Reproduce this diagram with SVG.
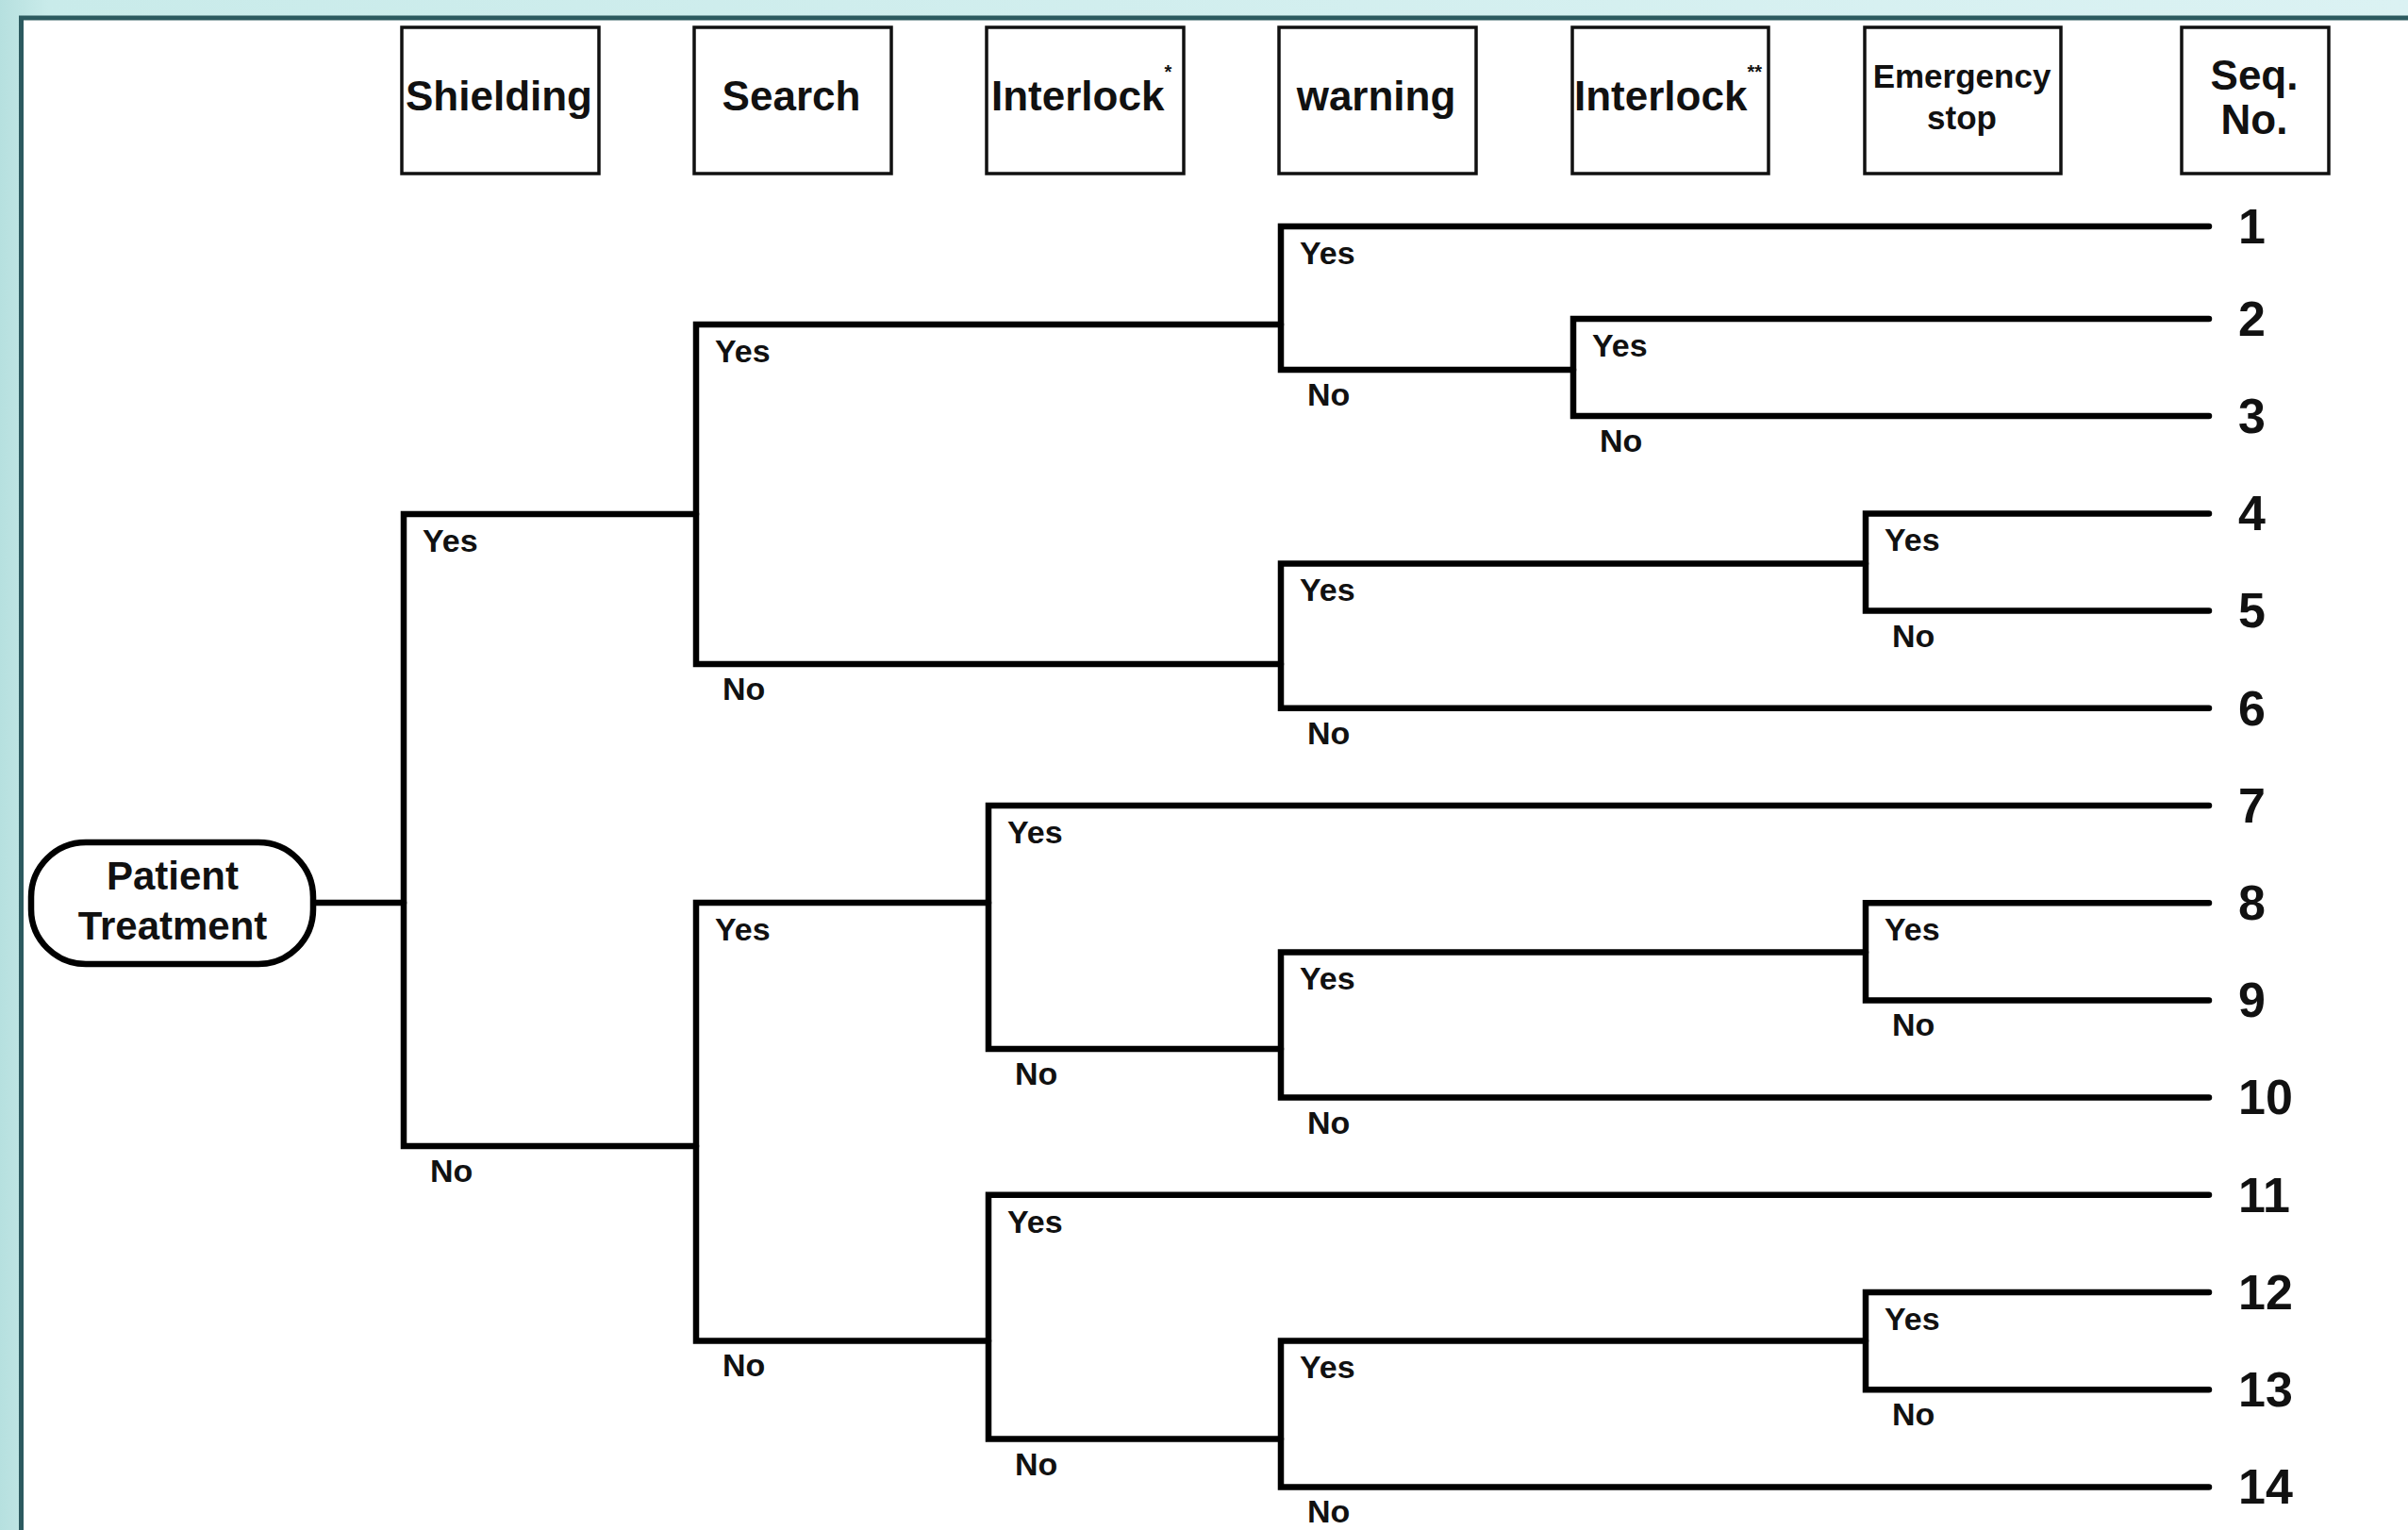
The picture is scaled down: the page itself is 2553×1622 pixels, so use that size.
<svg xmlns="http://www.w3.org/2000/svg" width="2553" height="1622" viewBox="0 0 2553 1622">
  <defs>
    <linearGradient id="bg" x1="0" y1="0" x2="1" y2="0">
      <stop offset="0" stop-color="#b6e0df"/>
      <stop offset="0.02" stop-color="#c9ebea"/>
      <stop offset="1" stop-color="#dbf2f3"/>
    </linearGradient>
  </defs>
  <style>
    .hdr { fill: #ffffff; stroke: #111111; stroke-width: 3.5; }
    .ht { font-family: "Liberation Sans", Arial, sans-serif; font-weight: bold; font-size: 44px; fill: #111111; }
    .ht2 { font-family: "Liberation Sans", Arial, sans-serif; font-weight: bold; font-size: 35px; fill: #111111; }
    .con { fill: none; stroke: #000000; stroke-width: 6.5; stroke-linecap: round; stroke-linejoin: miter; }
    .lbl { font-family: "Liberation Sans", Arial, sans-serif; font-weight: bold; font-size: 34px; fill: #111111; }
    .num { font-family: "Liberation Sans", Arial, sans-serif; font-weight: bold; font-size: 52px; fill: #111111; }
    .pt { font-family: "Liberation Sans", Arial, sans-serif; font-weight: bold; font-size: 42px; fill: #111111; }
  </style>

  <rect x="0" y="0" width="2553" height="1622" fill="url(#bg)"/>
  <rect x="22.5" y="19" width="2600" height="1700" fill="#ffffff" stroke="#2c5a5f" stroke-width="5"/>

  <!-- header nodes -->
  <g id="hdr-shielding">
    <rect class="hdr" x="426" y="29" width="209" height="155"/>
    <text class="ht" x="529" y="117" text-anchor="middle">Shielding</text>
  </g>
  <g id="hdr-search">
    <rect class="hdr" x="736" y="29" width="209" height="155"/>
    <text class="ht" x="839" y="117" text-anchor="middle">Search</text>
  </g>
  <g id="hdr-interlock1">
    <rect class="hdr" x="1046" y="29" width="209" height="155"/>
    <text class="ht" x="1051" y="117">Interlock<tspan font-size="20" dy="-34">*</tspan></text>
  </g>
  <g id="hdr-warning">
    <rect class="hdr" x="1356" y="29" width="209" height="155"/>
    <text class="ht" x="1459" y="117" text-anchor="middle">warning</text>
  </g>
  <g id="hdr-interlock2">
    <rect class="hdr" x="1667" y="29" width="208" height="155"/>
    <text class="ht" x="1669" y="117">Interlock<tspan font-size="20" dy="-34">**</tspan></text>
  </g>
  <g id="hdr-emergency">
    <rect class="hdr" x="1977" y="29" width="208" height="155"/>
    <text class="ht2" x="2080" y="93" text-anchor="middle">Emergency</text>
    <text class="ht2" x="2080" y="137" text-anchor="middle">stop</text>
  </g>
  <g id="hdr-seq">
    <rect class="hdr" x="2313" y="29" width="156" height="155"/>
    <text class="ht" x="2390" y="95" text-anchor="middle">Seq.</text>
    <text class="ht" x="2390" y="142" text-anchor="middle">No.</text>
  </g>

  <!-- start node -->
  <g id="patient-treatment">
    <rect x="33" y="893" width="299" height="129" rx="58" ry="58" fill="#ffffff" stroke="#000000" stroke-width="6.5"/>
    <text class="pt" x="183" y="943" text-anchor="middle">Patient</text>
    <text class="pt" x="183" y="996" text-anchor="middle">Treatment</text>
  </g>

  <!-- connectors -->
  <g id="connectors">
    <path class="con" d="M333,957 H428"/>
    <path class="con" d="M738,545 H428 V1215 H738"/>
    <path class="con" d="M1358,344 H738 V704 H1358"/>
    <path class="con" d="M2342,240 H1358 V392 H1668"/>
    <path class="con" d="M2342,338 H1668 V441 H2342"/>
    <path class="con" d="M1978,597.5 H1358 V750.8 H2342"/>
    <path class="con" d="M2342,544.4 H1978 V647.6 H2342"/>
    <path class="con" d="M1048,957 H738 V1421.4 H1048"/>
    <path class="con" d="M2342,854 H1048 V1112 H1358"/>
    <path class="con" d="M1978,1009.5 H1358 V1163.6 H2342"/>
    <path class="con" d="M2342,957.2 H1978 V1060.4 H2342"/>
    <path class="con" d="M2342,1266.8 H1048 V1525.6 H1358"/>
    <path class="con" d="M1978,1421.4 H1358 V1576.4 H2342"/>
    <path class="con" d="M2342,1370 H1978 V1473.2 H2342"/>
  </g>

  <!-- branch labels -->
  <g id="branch-labels">
    <text class="lbl" x="448" y="585">Yes</text>
    <text class="lbl" x="456" y="1253">No</text>
    <text class="lbl" x="758" y="384">Yes</text>
    <text class="lbl" x="766" y="742">No</text>
    <text class="lbl" x="758" y="997">Yes</text>
    <text class="lbl" x="766" y="1459">No</text>
    <text class="lbl" x="1378" y="280">Yes</text>
    <text class="lbl" x="1386" y="430">No</text>
    <text class="lbl" x="1688" y="378">Yes</text>
    <text class="lbl" x="1696" y="479">No</text>
    <text class="lbl" x="1378" y="637">Yes</text>
    <text class="lbl" x="1386" y="789">No</text>
    <text class="lbl" x="1998" y="584">Yes</text>
    <text class="lbl" x="2006" y="686">No</text>
    <text class="lbl" x="1068" y="894">Yes</text>
    <text class="lbl" x="1076" y="1150">No</text>
    <text class="lbl" x="1378" y="1049">Yes</text>
    <text class="lbl" x="1386" y="1202">No</text>
    <text class="lbl" x="1998" y="997">Yes</text>
    <text class="lbl" x="2006" y="1098">No</text>
    <text class="lbl" x="1068" y="1307">Yes</text>
    <text class="lbl" x="1076" y="1564">No</text>
    <text class="lbl" x="1378" y="1461">Yes</text>
    <text class="lbl" x="1386" y="1614">No</text>
    <text class="lbl" x="1998" y="1410">Yes</text>
    <text class="lbl" x="2006" y="1511">No</text>
  </g>

  <!-- sequence numbers -->
  <g id="seq-numbers">
    <text class="num" x="2373" y="258">1</text>
    <text class="num" x="2373" y="356">2</text>
    <text class="num" x="2373" y="459">3</text>
    <text class="num" x="2373" y="562">4</text>
    <text class="num" x="2373" y="665">5</text>
    <text class="num" x="2373" y="769">6</text>
    <text class="num" x="2373" y="872">7</text>
    <text class="num" x="2373" y="975">8</text>
    <text class="num" x="2373" y="1078">9</text>
    <text class="num" x="2373" y="1181">10</text>
    <text class="num" x="2373" y="1285">11</text>
    <text class="num" x="2373" y="1388">12</text>
    <text class="num" x="2373" y="1491">13</text>
    <text class="num" x="2373" y="1594">14</text>
  </g>
</svg>
